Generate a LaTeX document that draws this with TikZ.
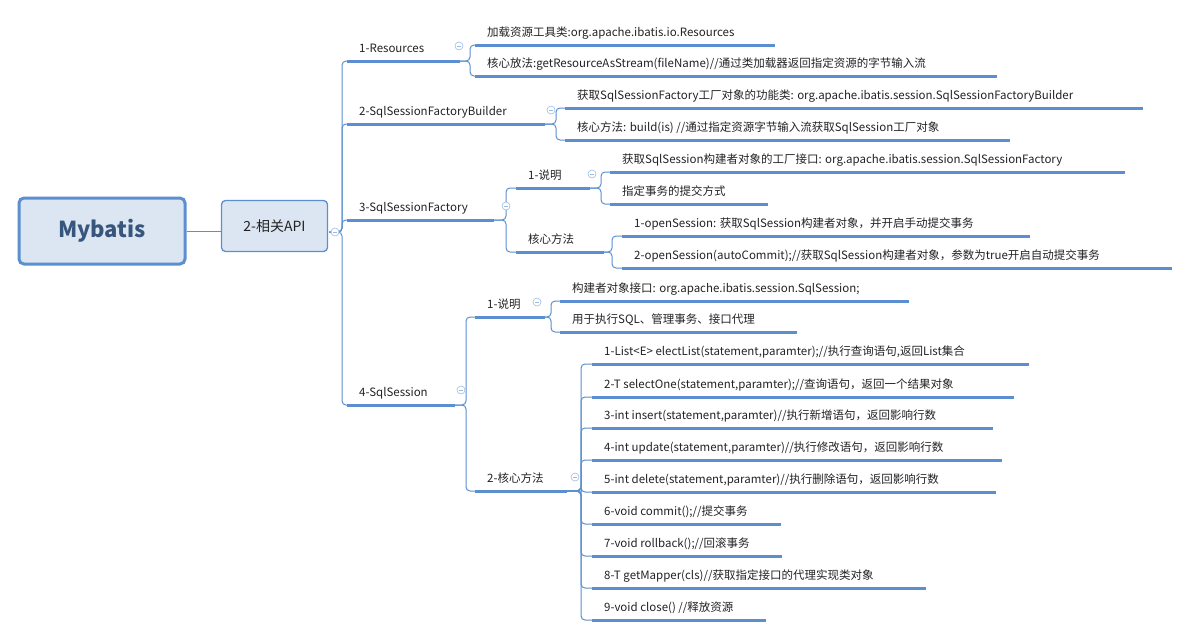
\documentclass[tikz,border=0pt]{standalone}
\usepackage{fontspec}
\setmainfont{Noto Sans CJK SC}
\definecolor{ln}{HTML}{5B8FD0}
\definecolor{tx}{HTML}{222222}
\definecolor{bx}{HTML}{DCE6F2}
\tikzset{
  txt/.style={inner sep=0pt,anchor=base west,text=tx,font=\fontsize{11.5}{13}\selectfont},
  uline/.style={draw=ln,line width=3pt},
  conn/.style={draw=ln,line width=1pt,rounded corners=4pt},
  fold/.style={circle,draw=ln!60,line width=0.6pt,minimum size=8pt,inner sep=0pt,fill=white},
}
% \leaf{name}{xs}{xe}{y}{text}
\newcommand\leaf[5]{%
  \coordinate (#1-s) at (#2,#4);
  \coordinate (#1-e) at (#3,#4);
  \node[txt] (#1) at ($(#1-s)+(12,-9)$) {#5};
  \draw[uline] (#1-s) -- (#1-e);}
% \fork{parent}{vx}
\newcommand\fork[2]{\coordinate (#1-v) at (#2,0 |- #1-e);}
\newcommand\link[2]{\draw[conn] (#1-e) -- (#1-v) |- (#2-s);}
\newcommand\foldat[1]{\node[fold] at (#1) {}; \draw[ln!60,line width=0.6pt] ($(#1)+(-2.2,0)$) -- ($(#1)+(2.2,0)$);}
\usetikzlibrary{calc}
\begin{document}
\begin{tikzpicture}[x=1pt,y=-1pt]
\useasboundingbox (0,0) rectangle (1191,637);
\node[draw=ln,line width=3pt,fill=bx,rounded corners=5pt,minimum width=166pt,minimum height=66pt,text=ln!60!black,font=\fontsize{22}{26}\selectfont\bfseries] (root) at (102,231) {Mybatis};
\node[draw=ln,line width=1.3pt,fill=bx,rounded corners=4pt,minimum width=106pt,minimum height=51pt,text=tx,font=\fontsize{14}{17}\selectfont] (api) at (274.5,226) {2-相关API};
\draw[ln,line width=1pt] (root.east) -- (api.west |- root.east);
\coordinate (api-e) at (329,232);
\fork{api}{342}
% level 1
\leaf{r}{347}{460}{61}{1-Resources}
\leaf{b}{347}{545}{124}{2-SqlSessionFactoryBuilder}
\leaf{f}{347}{494}{220}{3-SqlSessionFactory}
\leaf{s}{347}{455}{405}{4-SqlSession}
\foreach \c in {r,b,f,s} {\link{api}{\c}}
% resources
\leaf{r1}{475}{775}{45}{加载资源工具类:org.apache.ibatis.io.Resources}
\leaf{r2}{475}{997}{76}{核心放法:getResourceAsStream(fileName)//通过类加载器返回指定资源的字节输入流}
\fork{r}{470}\link{r}{r1}\link{r}{r2}
% builder
\leaf{b1}{565}{1143}{108}{获取SqlSessionFactory工厂对象的功能类: org.apache.ibatis.session.SqlSessionFactoryBuilder}
\leaf{b2}{565}{1010}{140}{核心方法: build(is) //通过指定资源字节输入流获取SqlSession工厂对象}
\fork{b}{556}\link{b}{b1}\link{b}{b2}
% factory
\leaf{fa}{516}{590}{188}{1-说明}
\leaf{fb}{516}{604}{252}{核心方法}
\fork{f}{506}\link{f}{fa}\link{f}{fb}
\leaf{fa1}{610}{1125}{172}{获取SqlSession构建者对象的工厂接口: org.apache.ibatis.session.SqlSessionFactory}
\leaf{fa2}{610}{768}{204}{指定事务的提交方式}
\fork{fa}{601}\link{fa}{fa1}\link{fa}{fa2}
\leaf{fb1}{622}{1030}{236}{1-openSession: 获取SqlSession构建者对象，并开启手动提交事务}
\leaf{fb2}{622}{1172}{268}{2-openSession(autoCommit);//获取SqlSession构建者对象，参数为true开启自动提交事务}
\fork{fb}{612}\link{fb}{fb1}\link{fb}{fb2}
% session
\leaf{sa}{475}{545}{317}{1-说明}
\leaf{sb}{475}{567}{491}{2-核心方法}
\fork{s}{466}\link{s}{sa}\link{s}{sb}
\leaf{sa1}{560}{909}{301}{构建者对象接口: org.apache.ibatis.session.SqlSession;}
\leaf{sa2}{560}{797}{332}{用于执行SQL、管理事务、接口代理}
\fork{sa}{551}\link{sa}{sa1}\link{sa}{sa2}
\leaf{m1}{592}{1029}{364}{1-List<E> electList(statement,paramter);//执行查询语句,返回List集合}
\leaf{m2}{592}{1014}{397}{2-T selectOne(statement,paramter);//查询语句，返回一个结果对象}
\leaf{m3}{592}{993}{428}{3-int insert(statement,paramter)//执行新增语句，返回影响行数}
\leaf{m4}{592}{1002}{460}{4-int update(statement,paramter)//执行修改语句，返回影响行数}
\leaf{m5}{592}{996}{492}{5-int delete(statement,paramter)//执行删除语句，返回影响行数}
\leaf{m6}{592}{781}{524}{6-void commit();//提交事务}
\leaf{m7}{592}{782}{556}{7-void rollback();//回滚事务}
\leaf{m8}{592}{926}{588}{8-T getMapper(cls)//获取指定接口的代理实现类对象}
\leaf{m9}{592}{766}{620}{9-void close() //释放资源}
\fork{sb}{581}
\foreach \c in {m1,m2,m3,m4,m5,m6,m7,m8,m9} {\link{sb}{\c}}
% fold markers
\foldat{335,232}
\foldat{459,46}
\foldat{551,110}
\foldat{506,206}
\foldat{592,174}
\foldat{461,390}
\foldat{537,302}
\foldat{575,477}
\end{tikzpicture}
\end{document}
